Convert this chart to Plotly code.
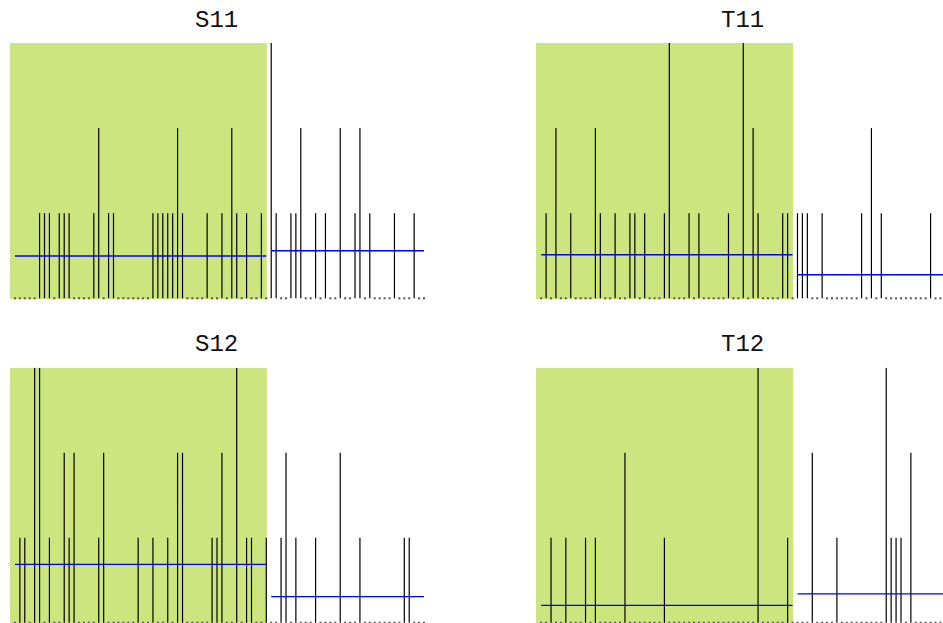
import plotly.graph_objects as go

# Event counts per time step (steps 0..83) for each series
steps = list(range(84))

s11_counts = [0, 0, 0, 0, 0, 1, 1, 1, 0, 1, 1, 1, 0, 0, 0, 0, 1, 2, 0, 1,
              1, 0, 0, 0, 0, 0, 0, 0, 1, 1, 1, 1, 1, 2, 1, 0, 0, 0, 0, 1,
              0, 0, 1, 0, 2, 1, 0, 1, 0, 0, 1, 0, 3, 1, 0, 0, 1, 1, 2, 0,
              0, 1, 0, 1, 0, 0, 2, 0, 0, 1, 2, 0, 1, 0, 0, 0, 0, 1, 0, 0,
              0, 1, 0, 0]

t11_counts = [0, 1, 0, 2, 0, 0, 1, 0, 0, 0, 0, 2, 1, 0, 0, 1, 0, 0, 1, 1,
              0, 1, 0, 0, 0, 1, 3, 0, 0, 0, 1, 0, 1, 0, 0, 0, 0, 0, 1, 0,
              0, 3, 0, 2, 1, 0, 0, 0, 0, 1, 1, 0, 1, 1, 1, 0, 0, 1, 0, 0,
              0, 0, 0, 0, 0, 1, 0, 2, 0, 1, 0, 0, 0, 0, 0, 0, 0, 0, 0, 1,
              0, 0, 0, 0]

s12_counts = [0, 1, 1, 0, 3, 3, 0, 1, 0, 0, 2, 1, 2, 0, 0, 0, 0, 1, 2, 0,
              0, 0, 0, 0, 0, 1, 0, 0, 1, 0, 0, 1, 0, 2, 2, 0, 0, 0, 0, 0,
              1, 1, 2, 0, 0, 3, 0, 1, 1, 0, 0, 1, 0, 0, 1, 2, 0, 1, 0, 0,
              0, 1, 0, 0, 0, 0, 2, 0, 0, 0, 1, 0, 0, 0, 0, 0, 0, 0, 0, 1,
              1, 0, 0, 0]

t12_counts = [0, 0, 1, 0, 0, 1, 0, 0, 0, 1, 0, 1, 0, 0, 0, 0, 0, 2, 0, 0,
              0, 0, 0, 0, 0, 1, 0, 0, 0, 0, 0, 0, 0, 0, 0, 0, 0, 0, 0, 0,
              0, 0, 0, 0, 3, 0, 0, 0, 0, 0, 1, 0, 0, 0, 0, 2, 0, 0, 0, 0,
              1, 0, 0, 0, 0, 0, 0, 0, 0, 0, 3, 1, 1, 1, 0, 2, 0, 0, 0, 0,
              0, 0, 0, 0]

# Mean rate before and after the change point
left_means = {"S11": 0.497, "T11": 0.512, "S12": 0.687, "T12": 0.205}
right_means = {"S11": 0.559, "T11": 0.277, "S12": 0.306, "T12": 0.338}

split_step = 51          # last step of the first period
shade_end = 51.1         # edge of the shaded first period

panel_names = ["S11", "T11", "S12", "T12"]
panel_counts = [s11_counts, t11_counts, s12_counts, t12_counts]

W, H = 943, 623
GREEN = "#CDE57F"
BLUE = "#0000FF"

# axis geometry (pixels -> paper)
x_dom = {"S": [10 / W, 425 / W], "T": [536 / W, 1.0]}
x_rng = {"S": [-1.0, 83.2], "T": [-1.05, 81.52]}
y_dom = {"top": [1 - 300 / H, 1 - 43 / H], "bot": [0.0, 1 - 367.7 / H]}
y_rng = {"top": [-0.02, 3.0], "bot": [-0.0035, 3.0]}

fig = go.Figure()
layout_axes = {}
shapes = []
annotations = []

for k, (name, counts) in enumerate(zip(panel_names, panel_counts)):
    col = name[0]
    row = "top" if k < 2 else "bot"
    ax = "" if k == 0 else str(k + 1)
    xa, ya = "x" + ax, "y" + ax

    layout_axes["xaxis" + ax] = dict(domain=x_dom[col], range=x_rng[col],
                                     visible=False, fixedrange=True)
    layout_axes["yaxis" + ax] = dict(domain=y_dom[row], range=y_rng[row],
                                     visible=False, fixedrange=True)

    # shaded first period
    shapes.append(dict(type="rect", xref=xa, yref=ya,
                       x0=x_rng[col][0], x1=shade_end,
                       y0=y_rng[row][0] if row == "bot" else -0.008, y1=3.0,
                       fillcolor=GREEN, line=dict(width=0), layer="below"))

    # vertical count lines
    sx, sy = [], []
    zx, zy = [], []
    for t, c in zip(steps, counts):
        if c > 0:
            sx += [t, t, None]
            sy += [0, c, None]
        else:
            zx.append(t)
            zy.append(0)
    fig.add_trace(go.Scatter(x=zx, y=zy, mode="markers", xaxis=xa, yaxis=ya,
                             marker=dict(symbol="square", size=2, color="#555555",
                                         line=dict(width=0)),
                             hoverinfo="skip", showlegend=False))
    fig.add_trace(go.Scatter(x=sx, y=sy, mode="lines", xaxis=xa, yaxis=ya,
                             line=dict(color="black", width=1.2),
                             hoverinfo="skip", showlegend=False))

    # period means
    fig.add_trace(go.Scatter(x=[steps[0], split_step],
                             y=[left_means[name]] * 2, mode="lines",
                             xaxis=xa, yaxis=ya,
                             line=dict(color=BLUE, width=1.3),
                             hoverinfo="skip", showlegend=False))
    fig.add_trace(go.Scatter(x=[split_step + 1, steps[-1]],
                             y=[right_means[name]] * 2, mode="lines",
                             xaxis=xa, yaxis=ya,
                             line=dict(color=BLUE, width=1.3),
                             hoverinfo="skip", showlegend=False))

    # panel title
    cx = 216.7 if col == "S" else 742.3
    cy = 20.7 if row == "top" else 344.0
    annotations.append(dict(text=name, x=cx / W, y=1 - cy / H, xref="paper",
                            yref="paper", xanchor="center", yanchor="middle",
                            showarrow=False,
                            font=dict(family="'Liberation Mono', 'DejaVu Sans Mono', monospace",
                                      size=24, color="#111111")))

fig.update_layout(width=W, height=H, margin=dict(l=0, r=0, t=0, b=0),
                  paper_bgcolor="white", plot_bgcolor="white",
                  shapes=shapes, annotations=annotations, **layout_axes)

fig.write_html("out.html", config={"displayModeBar": False})
